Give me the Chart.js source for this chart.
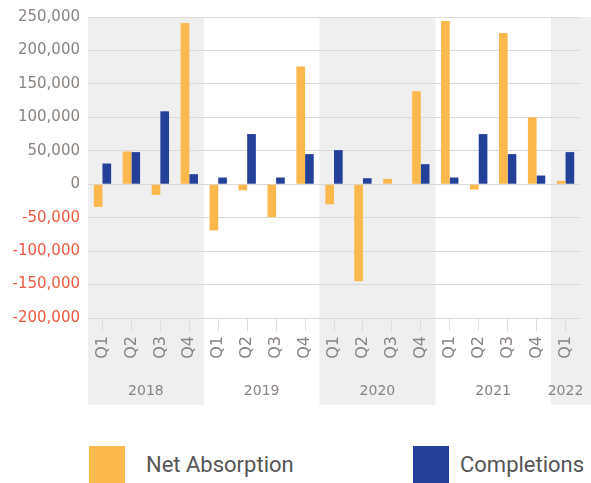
<!DOCTYPE html>
<html>
<head>
<meta charset="utf-8">
<script src="https://cdn.jsdelivr.net/npm/chart.js@4"></script>
<style>
    html, body { margin: 0; padding: 0; background: #fff; }
    body { width: 591px; height: 483px; position: relative; overflow: hidden; }
    #wrap { position: absolute; left: 0; top: 0; width: 591px; height: 420px; }
    .legend-box { position: absolute; top: 446px; width: 36px; height: 37px; }
    .legend-label { position: absolute; top: 451px; line-height: 28px; font-family: Roboto, sans-serif; font-size: 22px; color: #555; }
</style>
</head>
<body>
<div id="wrap"><canvas id="absorptionChart"></canvas></div>
<div class="legend-box" style="left:89px; background:#fbb84d"></div>
<span class="legend-label" style="left:146px">Net Absorption</span>
<div class="legend-box" style="left:413px; background:#24419a"></div>
<span class="legend-label" style="left:460px">Completions</span>
<script>
    const quarters = ['Q1', 'Q2', 'Q3', 'Q4', 'Q1', 'Q2', 'Q3', 'Q4', 'Q1', 'Q2', 'Q3', 'Q4', 'Q1', 'Q2', 'Q3', 'Q4', 'Q1'];
    const quarterYears = ['2018', '2018', '2018', '2018', '2019', '2019', '2019', '2019',
        '2020', '2020', '2020', '2020', '2021', '2021', '2021', '2021', '2022'];
    const netAbsorption = [-34000, 49000, -16000, 241000, -69000, -9000, -49000, 176000,
        -30000, -145000, 8000, 139000, 244000, -8000, 226000, 100000, 5000];
    const completions = [31000, 48000, 109000, 15000, 10000, 75000, 10000, 45000,
        51000, 9000, 0, 30000, 10000, 75000, 45000, 13000, 48000];
    const yTicks = [-200000, -150000, -100000, -50000, 0, 50000, 100000, 150000, 200000, 250000];

    const ORANGE = '#fbb84d';
    const BLUE = '#24419a';
    const GREY_TEXT = '#8a8480';
    const RED_TEXT = '#f05a40';

    // group consecutive quarters of the same year
    function yearGroups() {
        const groups = [];
        quarterYears.forEach((yr, i) => {
            const last = groups[groups.length - 1];
            if (last && last.year === yr) last.end = i;
            else groups.push({ year: yr, start: i, end: i });
        });
        return groups;
    }

    // shaded bands behind alternate years, year captions under the quarter labels
    const yearBands = {
        id: 'yearBands',
        beforeDraw(chart) {
            const { ctx, chartArea, scales: { x } } = chart;
            const half = (x.getPixelForValue(1) - x.getPixelForValue(0)) / 2;
            const bottom = chartArea.bottom + 87;
            ctx.save();
            ctx.fillStyle = '#efeff0';
            yearGroups().forEach((g, i, all) => {
                if (i % 2) return;
                const left = x.getPixelForValue(g.start) - half;
                const right = i === all.length - 1 ? chart.width : x.getPixelForValue(g.end) + half;
                ctx.fillRect(left, chartArea.top, right - left, bottom - chartArea.top);
            });
            ctx.restore();
        },
        afterDraw(chart) {
            const { ctx, chartArea, scales: { x } } = chart;
            ctx.save();
            ctx.font = '14px "DejaVu Sans", sans-serif';
            ctx.fillStyle = GREY_TEXT;
            ctx.textAlign = 'center';
            ctx.textBaseline = 'middle';
            yearGroups().forEach(g => {
                const mid = (x.getPixelForValue(g.start) + x.getPixelForValue(g.end)) / 2;
                ctx.fillText(g.year, mid, chartArea.bottom + 73);
            });
            ctx.restore();
        }
    };

    new Chart(document.getElementById('absorptionChart').getContext('2d'), {
        type: 'bar',
        data: {
            labels: quarters,
            datasets: [{
                label: 'Net Absorption',
                data: netAbsorption,
                backgroundColor: ORANGE,
                categoryPercentage: 0.6,
                barPercentage: 1
            }, {
                label: 'Completions',
                data: completions,
                backgroundColor: BLUE,
                categoryPercentage: 0.6,
                barPercentage: 1
            }]
        },
        options: {
            responsive: true,
            maintainAspectRatio: false,
            animation: false,
            layout: { padding: { top: 17, right: 11, left: 0, bottom: 0 } },
            plugins: {
                legend: { display: false },
                tooltip: { enabled: false }
            },
            scales: {
                x: {
                    afterFit: scale => { scale.height = 102; },
                    grid: { drawOnChartArea: false, offset: false, tickLength: 13, color: '#dcdcdc' },
                    border: { display: false },
                    ticks: {
                        minRotation: 90,
                        maxRotation: 90,
                        padding: 5,
                        color: GREY_TEXT,
                        font: { family: '"DejaVu Sans", sans-serif', size: 16 }
                    }
                },
                y: {
                    min: -200000,
                    max: 250000,
                    afterFit: scale => { scale.width = 88; },
                    afterBuildTicks: scale => { scale.ticks = yTicks.map(v => ({ value: v })); },
                    grid: { color: '#d9d9d9', drawTicks: false },
                    border: { display: false },
                    ticks: {
                        padding: 8,
                        color: ctx => ctx.tick.value < 0 ? RED_TEXT : GREY_TEXT,
                        font: { family: '"DejaVu Sans", sans-serif', size: 15 },
                        callback: v => v.toLocaleString('en-US')
                    }
                }
            }
        },
        plugins: [yearBands]
    });
</script>
</body>
</html>
